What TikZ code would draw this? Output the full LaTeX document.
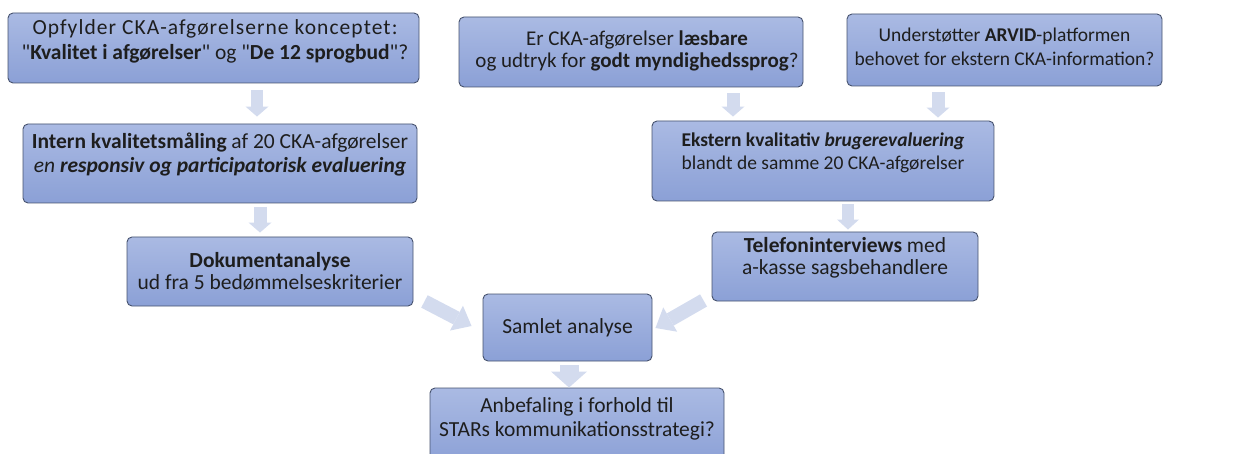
\documentclass[tikz,border=0pt]{standalone}
\usepackage{fontspec}
\setmainfont{Carlito}
\usetikzlibrary{arrows.meta}
\definecolor{boxtop}{HTML}{AABAE3}
\definecolor{boxbot}{HTML}{8BA0D6}
\definecolor{boxline}{HTML}{46526E}
\definecolor{arrowc}{HTML}{D3DBEE}
\definecolor{txt}{HTML}{1E1E1E}
\tikzset{
  box/.style={draw=boxline, line width=0.9pt, rounded corners=5pt,
    top color=boxtop, bottom color=boxbot, inner sep=0pt},
  lbl/.style 2 args={inner sep=0pt, align=center, text=txt,
    font=\fontsize{#1pt}{#2pt}\selectfont},
  blk/.style n args={3}{line width=#1pt, draw=arrowc,
    -{Triangle[width=#2pt,length=#3pt,line width=0pt]}}
}
\newcommand{\qd}{\textquotedbl}
\begin{document}
\begin{tikzpicture}[x=1pt,y=-1pt]
\useasboundingbox (0,0) rectangle (1238,454);
\clip (0,0) rectangle (1238,454);
% boxes
\node[box, minimum width=411pt, minimum height=70pt] (b1) at (213.5,48) {};
\node[box, minimum width=394pt, minimum height=79pt] (b2) at (220,163.5) {};
\node[box, minimum width=286pt, minimum height=69pt] (b3) at (270,271.5) {};
\node[box, minimum width=344pt, minimum height=70pt] (b4) at (631,52) {};
\node[box, minimum width=315pt, minimum height=72pt] (b5) at (1004.5,50) {};
\node[box, minimum width=342pt, minimum height=80pt] (b6) at (823,161) {};
\node[box, minimum width=266pt, minimum height=69pt] (b7) at (845,266.5) {};
\node[box, minimum width=169pt, minimum height=67pt] (b8) at (567.5,327.5) {};
\node[box, minimum width=294pt, minimum height=77pt] (b9) at (577,426.5) {};
% texts
\node[lbl={21.5}{25}] (t1) at (215,42.5) {\strut{\addfontfeatures{LetterSpace=5}Opfylder CKA-afgørelserne konceptet:}\\\strut\qd\textbf{Kvalitet i afgørelser}\qd{} og \qd\textbf{De 12 sprogbud}\qd?};
\node[lbl={21.5}{24}] (t2) at (220,156.2) {\strut\textbf{Intern kvalitetsmåling} af 20 CKA-afgørelser\\\strut\textit{en \textbf{responsiv og participatorisk evaluering}}};
\node[lbl={21.5}{22}] (t3) at (270,273.6) {\strut\textbf{Dokumentanalyse}\\\strut ud fra 5 bedømmelseskriterier};
\node[lbl={21}{22}] (t4) at (637,52.5) {\strut Er CKA-afgørelser \textbf{læsbare}\\\strut og udtryk for \textbf{godt myndighedssprog}?};
\node[lbl={19.5}{24}] (t5) at (1004.5,49.2) {\strut Understøtter \textbf{ARVID}-platformen\\\strut behovet for ekstern CKA-information?};
\node[lbl={19.5}{23}] (t6) at (823,153.9) {\strut\textbf{Ekstern kvalitativ \textit{brugerevaluering}}\\\strut blandt de samme 20 CKA-afgørelser};
\node[lbl={21.5}{22}] (t7) at (845,258.6) {\strut\textbf{Telefoninterviews} med\\\strut a-kasse sagsbehandlere};
\node[lbl={21.5}{25}] (t8) at (567.5,328) {\strut Samlet analyse};
\node[lbl={21.5}{24}] (t9) at (577,419.2) {\strut Anbefaling i forhold til\\\strut STARs kommunikationsstrategi?};
% arrows
\draw[blk={12}{23}{10}] ([shift={(43.5,7)}]b1.south) -- ([shift={(37,-7)}]b2.north);
\draw[blk={13}{23}{10}] ([shift={(40,3.5)}]b2.south) -- ([shift={(-10,-4)}]b3.north);
\draw[blk={13}{23}{10}] ([shift={(102,6)}]b4.south) -- ([shift={(-90,-4)}]b6.north);
\draw[blk={13}{23}{10}] ([shift={(-66.5,6)}]b5.south) -- ([shift={(115,-3)}]b6.north);
\draw[blk={12}{22}{10}] ([shift={(25,3)}]b6.south) -- ([shift={(3,-2)}]b7.north);
\draw[blk={14}{28}{17}] ([shift={(11,-5)}]b3.south east) -- ([shift={(-11,-1.5)}]b8.west);
\draw[blk={14}{28}{17}] ([shift={(-8,-1)}]b7.south west) -- ([shift={(3,0.5)}]b8.east);
\draw[blk={19}{36}{16}] ([shift={(1.5,4)}]b8.south) -- ([shift={(-8,0)}]b9.north);
\end{tikzpicture}
\end{document}
